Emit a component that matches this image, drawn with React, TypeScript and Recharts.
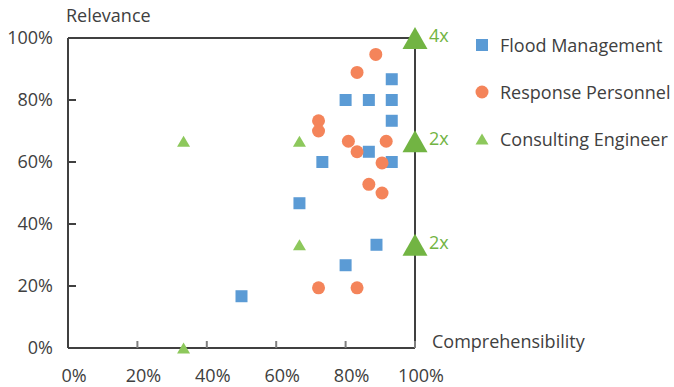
import React from "react";
import {
  ScatterChart,
  Scatter,
  XAxis,
  YAxis,
  ReferenceLine,
} from "recharts";

// values in percent
const floodX = [50, 66.7, 73.3, 80, 86.7, 93.3, 93.3, 93.3, 86.7, 93.3, 80, 88.9];
const floodY = [16.7, 46.7, 60, 80, 80, 86.7, 80, 73.3, 63.3, 60, 26.7, 33.3];

const responseX = [88.7, 83.3, 72.2, 72.2, 80.8, 91.7, 83.3, 90.5, 86.7, 90.5, 72.2, 83.3];
const responseY = [94.7, 88.9, 73.3, 70, 66.7, 66.7, 63.3, 59.7, 52.8, 50, 19.4, 19.4];

const engineerX = [33.3, 33.3, 66.7, 66.7, 100, 100, 100];
const engineerY = [66.7, 0, 66.7, 33.3, 100, 66.7, 33.3];
const engineerCount = [1, 1, 1, 1, 4, 2, 2];

const percentTicks = [0, 20, 40, 60, 80, 100];

const BLUE = "#5B9BD5";
const ORANGE = "#F4845A";
const GREEN = "#8DC85C";
const GREEN_DARK = "#72B443";
const TEXT = "#404040";
const FONT = "'Open Sans', sans-serif";

const floodData = floodX.map((x, i) => ({ x, y: floodY[i] }));
const responseData = responseX.map((x, i) => ({ x, y: responseY[i] }));
const engineerData = engineerX.map((x, i) => ({
  x,
  y: engineerY[i],
  n: engineerCount[i],
  label: engineerCount[i] > 1 ? `${engineerCount[i]}x` : "",
}));

const Square = (props: any) => (
  <rect x={props.cx - 6} y={props.cy - 6} width={12} height={12} fill={BLUE} />
);

const Dot = (props: any) => (
  <circle cx={props.cx} cy={props.cy} r={6.5} fill={ORANGE} />
);

const Triangle = (props: any) => {
  const { cx, cy, payload } = props;
  const big = payload.n > 1;
  const hw = big ? 12.5 : 6.5;
  const h = big ? 22 : 11;
  return (
    <g>
      <polygon
        points={`${cx - hw},${cy + h / 2} ${cx + hw},${cy + h / 2} ${cx},${cy - h / 2}`}
        fill={big ? GREEN_DARK : GREEN}
      />
      {payload.label && (
        <text
          x={cx + 14}
          y={cy + 4}
          fill={GREEN_DARK}
          fontSize={18}
          fontFamily={FONT}
        >
          {payload.label}
        </text>
      )}
    </g>
  );
};

const tickText = { fill: TEXT, fontSize: 18, fontFamily: FONT };

const legendItems = [
  { name: "Flood Management", icon: "square", color: BLUE, cy: 44.5 },
  { name: "Response Personnel", icon: "circle", color: ORANGE, cy: 91.5 },
  { name: "Consulting Engineer", icon: "triangle", color: GREEN, cy: 139 },
];

const LegendIcon = ({ icon, color }: { icon: string; color: string }) => (
  <svg width={14} height={14} style={{ display: "block" }}>
    {icon === "square" && <rect x={1} y={1} width={12} height={12} fill={color} />}
    {icon === "circle" && <circle cx={7} cy={7} r={6.5} fill={color} />}
    {icon === "triangle" && <polygon points="0.5,12.5 13.5,12.5 7,1.5" fill={color} />}
  </svg>
);

export default function App() {
  return (
    <div
      style={{
        position: "absolute",
        left: 0,
        top: 0,
        width: 674,
        height: 387,
        background: "#fff",
        fontFamily: FONT,
      }}
    >
      <ScatterChart
        width={674}
        height={387}
        margin={{ top: 38, right: 259, bottom: 0, left: 8 }}
      >
        <XAxis
          type="number"
          dataKey="x"
          domain={[0, 100]}
          ticks={percentTicks}
          tickFormatter={(v) => `${v}%`}
          height={39}
          tickSize={-7}
          tickMargin={28}
          tick={{ ...tickText, dx: 6 }}
          tickLine={{ stroke: "#7f7f7f", strokeWidth: 2 }}
          stroke={TEXT}
          strokeWidth={2}
        />
        <YAxis
          type="number"
          dataKey="y"
          domain={[0, 100]}
          ticks={percentTicks}
          tickFormatter={(v) => `${v}%`}
          width={60}
          tickSize={-8}
          tickMargin={23}
          tick={tickText}
          tickLine={{ stroke: TEXT, strokeWidth: 2 }}
          stroke={TEXT}
          strokeWidth={2}
        />
        <ReferenceLine y={100} stroke={TEXT} strokeWidth={2} />
        <ReferenceLine
          x={100}
          stroke={TEXT}
          strokeWidth={2}
          label={{
            content: (p: any) => (
              <text
                x={p.viewBox.x + 17}
                y={p.viewBox.y + p.viewBox.height}
                fill={TEXT}
                fontSize={18}
                fontFamily={FONT}
              >
                Comprehensibility
              </text>
            ),
          }}
        />
        <ReferenceLine
          x={0}
          stroke="none"
          label={{
            content: (p: any) => (
              <text
                x={p.viewBox.x - 2}
                y={p.viewBox.y - 16}
                fill={TEXT}
                fontSize={18}
                fontFamily={FONT}
              >
                Relevance
              </text>
            ),
          }}
        />
        <Scatter
          name="Flood Management"
          data={floodData}
          shape={Square}
          isAnimationActive={false}
        />
        <Scatter
          name="Response Personnel"
          data={responseData}
          shape={Dot}
          isAnimationActive={false}
        />
        <Scatter
          name="Consulting Engineer"
          data={engineerData}
          shape={Triangle}
          isAnimationActive={false}
        />
      </ScatterChart>
      {legendItems.map((item) => (
        <div
          key={item.name}
          style={{
            position: "absolute",
            left: 475,
            top: item.cy - 13,
            height: 26,
            display: "flex",
            alignItems: "center",
            color: TEXT,
            fontSize: 18,
            whiteSpace: "nowrap",
          }}
        >
          <LegendIcon icon={item.icon} color={item.color} />
          <span style={{ marginLeft: 11 }}>{item.name}</span>
        </div>
      ))}
    </div>
  );
}
